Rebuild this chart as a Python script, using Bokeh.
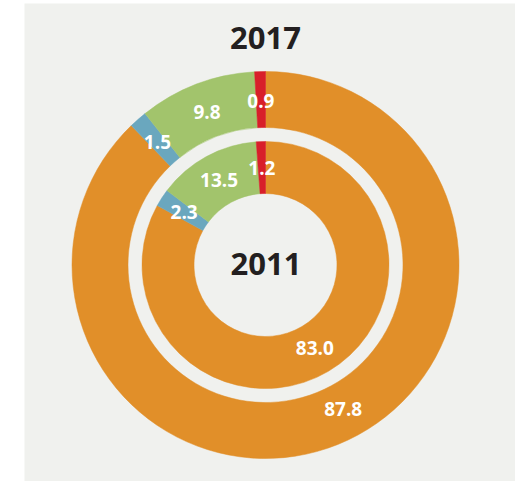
import math
from bokeh.plotting import figure
from bokeh.models import Range1d, ColumnDataSource
from bokeh.core.properties import value
from bokeh.embed import file_html
from bokeh.resources import INLINE

# Data (clockwise from 12 o'clock)
categories = ["Orange", "Blue", "Green", "Red"]
values_2017 = [87.8, 1.5, 9.8, 0.9]
values_2011 = [83.0, 2.3, 13.5, 1.2]
labels_2017 = ["87.8", "1.5", "9.8", "0.9"]
labels_2011 = ["83.0", "2.3", "13.5", "1.2"]
colors = ["#E18F29", "#6AA7BE", "#A2C46C", "#D81F2A"]

BG = "#F0F1EE"
W, H = 515, 481
LEFT, TOP = 24, 3

p = figure(width=W, height=H, output_backend="svg", toolbar_location=None,
           x_range=Range1d(LEFT, W), y_range=Range1d(-H, -TOP),
           min_border_left=LEFT, min_border_right=0, min_border_top=TOP, min_border_bottom=0,
           background_fill_color=BG, border_fill_color="white")
p.axis.visible = False
p.grid.visible = False
p.outline_line_color = None

cx, cy = 265, -264.5


def ring(vals, labels, r_in, r_out, r_lab, first_frac):
    total = sum(vals)
    start = 0.0
    sa, ea, tx, ty = [], [], [], []
    for i, v in enumerate(vals):
        th_s = 2 * math.pi * start / total
        th_e = 2 * math.pi * (start + v) / total
        sa.append(math.pi / 2 - th_e)
        ea.append(math.pi / 2 - th_s)
        frac = first_frac if i == 0 else 0.5
        th_m = 2 * math.pi * (start + frac * v) / total
        tx.append(cx + r_lab * math.sin(th_m))
        ty.append(cy + r_lab * math.cos(th_m))
        start += v
    src = ColumnDataSource(dict(sa=sa, ea=ea, color=colors, tx=tx, ty=ty, label=labels,
                                cat=categories))
    p.annular_wedge(x=cx, y=cy, inner_radius=r_in, outer_radius=r_out,
                    inner_radius_units="screen", outer_radius_units="screen",
                    start_angle="sa", end_angle="ea", fill_color="color",
                    line_color="color", line_width=0.5, source=src)
    p.text(x="tx", y="ty", text="label", source=src, text_color="white",
           text_font=value("Open Sans"), text_font_style="bold", text_font_size="19px",
           text_align="center", text_baseline="middle")


ring(values_2017, labels_2017, 137.5, 193.5, 164, 0.48)
ring(values_2011, labels_2011, 71.5, 123.5, 97, 0.5)

p.text(x=[265], y=[-37], text=["2017"], text_color="#231F20",
       text_font=value("Open Sans"), text_font_style="bold", text_font_size="31px",
       text_align="center", text_baseline="middle")
p.text(x=[265.5], y=[-263.5], text=["2011"], text_color="#231F20",
       text_font=value("Open Sans"), text_font_style="bold", text_font_size="31px",
       text_align="center", text_baseline="middle")

open("out.html", "w").write(file_html(p, INLINE))
